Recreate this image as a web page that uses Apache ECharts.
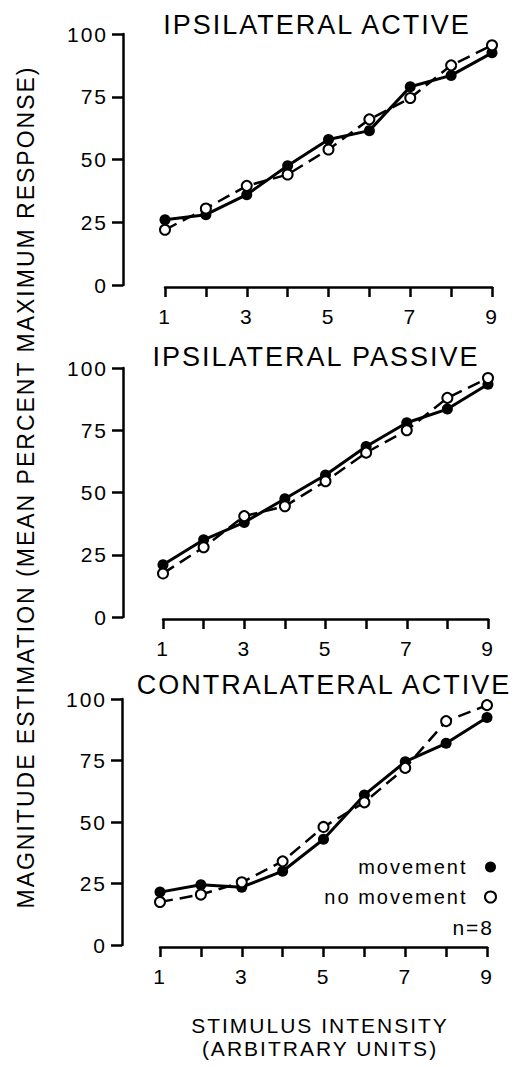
<!DOCTYPE html>
<html>
<head>
<meta charset="utf-8">
<script src="https://cdn.jsdelivr.net/npm/echarts@6/dist/echarts.min.js"></script>
<style>
  html, body { margin: 0; padding: 0; background: #fff; }
  #chart { width: 519px; height: 1067px; }
  /* the original figure uses widely tracked lettering */
  #chart text { letter-spacing: 2px; }
</style>
</head>
<body>
<div id="chart"></div>
<script>
// stimulus intensity (arbitrary units)
const stimulus = [1, 2, 3, 4, 5, 6, 7, 8, 9];

// mean percent maximum response
const ipsiActiveMovement = [26, 28, 36, 47.5, 58, 61.5, 79, 83.5, 92.5];
const ipsiActiveNoMovement = [22, 30.5, 39.5, 44, 54, 66, 74.5, 87.5, 95.5];
const ipsiPassiveMovement = [21, 31, 38, 47.5, 57, 68.5, 78, 83.5, 93.5];
const ipsiPassiveNoMovement = [17.5, 28, 40.5, 44.5, 54.5, 66, 75, 88, 96];
const contraActiveMovement = [21.5, 24.5, 23.5, 30, 43, 61, 74.5, 82, 92.5];
const contraActiveNoMovement = [17.5, 20.5, 25.5, 34, 48, 58, 72, 91, 97.5];

const panelTitles = ['IPSILATERAL ACTIVE', 'IPSILATERAL PASSIVE', 'CONTRALATERAL ACTIVE'];
const yTickStep = 25;
const seriesNames = ['movement', 'no movement'];

var FONT = '"Liberation Sans", Arial, Helvetica, sans-serif';
var dom = document.getElementById('chart');
var myChart = echarts.init(dom, null, { renderer: 'svg' });

var panels = [
  { grid: { left: 165, right: 27, top: 34, height: 251 }, yOffset: 42, title: { left: 317, top: 11 },
    move: ipsiActiveMovement, noMove: ipsiActiveNoMovement },
  { grid: { left: 163, right: 31, top: 368, height: 249 }, yOffset: 40, title: { left: 316, top: 343 },
    move: ipsiPassiveMovement, noMove: ipsiPassiveNoMovement },
  { grid: { left: 160, right: 32, top: 699, height: 246 }, yOffset: 38, title: { left: 324, top: 671 },
    move: contraActiveMovement, noMove: contraActiveNoMovement }
];

function pairs(ys) {
  var out = [];
  for (var i = 0; i < stimulus.length; i++) {
    out.push([stimulus[i], ys[i]]);
  }
  return out;
}

var grids = [], xAxes = [], yAxes = [], titles = [], seriesData = [];
for (var p = 0; p < panels.length; p++) {
  var pn = panels[p];
  grids.push(pn.grid);
  titles.push({
    text: panelTitles[p],
    left: pn.title.left,
    top: pn.title.top,
    textAlign: 'center',
    padding: 0,
    textStyle: { fontFamily: FONT, fontSize: 27, fontWeight: 'normal', color: '#000' }
  });
  xAxes.push({
    gridIndex: p,
    type: 'value',
    min: 1,
    max: 9,
    interval: 1,
    offset: 2,
    axisLine: { show: true, onZero: false, lineStyle: { color: '#000', width: 2.5 } },
    axisTick: { show: true, length: 10, lineStyle: { color: '#000', width: 2.5 } },
    axisLabel: {
      margin: 19,
      fontFamily: FONT,
      fontSize: 21,
      color: '#000',
      formatter: function (v) { return v % 2 === 1 ? String(v) : ''; }
    },
    splitLine: { show: false }
  });
  yAxes.push({
    gridIndex: p,
    type: 'value',
    min: 0,
    max: 100,
    interval: yTickStep,
    offset: pn.yOffset,
    axisLine: { show: true, onZero: false, lineStyle: { color: '#000', width: 2.5 } },
    axisTick: { show: true, length: 11, lineStyle: { color: '#000', width: 2.5 } },
    axisLabel: { margin: 15, fontFamily: FONT, fontSize: 21, color: '#000' },
    splitLine: { show: false }
  });
  seriesData.push({
    name: seriesNames[0],
    type: 'line',
    xAxisIndex: p,
    yAxisIndex: p,
    data: pairs(pn.move),
    symbol: 'circle',
    symbolSize: 11,
    lineStyle: { color: '#000', width: 3 },
    itemStyle: { color: '#000', borderColor: '#000', borderWidth: 0 },
    z: 2
  });
  seriesData.push({
    name: seriesNames[1],
    type: 'line',
    xAxisIndex: p,
    yAxisIndex: p,
    data: pairs(pn.noMove),
    symbol: 'circle',
    symbolSize: 10,
    showAllSymbol: true,
    lineStyle: { color: '#000', width: 2.5, type: [13, 7] },
    itemStyle: { color: '#fff', borderColor: '#000', borderWidth: 2 },
    z: 3
  });
}

var option = {
  backgroundColor: '#fff',
  animation: false,
  title: titles,
  grid: grids,
  xAxis: xAxes,
  yAxis: yAxes,
  legend: {
    orient: 'vertical',
    align: 'right',
    right: 17,
    top: 852,
    itemGap: 10,
    itemWidth: 36,
    itemHeight: 11,
    icon: 'circle',
    selectedMode: false,
    textStyle: { fontFamily: FONT, fontSize: 20, color: '#000' },
    data: [
      { name: seriesNames[0], itemStyle: { color: '#000', borderWidth: 0 } },
      { name: seriesNames[1], itemStyle: { color: '#fff', borderColor: '#000', borderWidth: 2 } }
    ]
  },
  graphic: [
    {
      type: 'text',
      right: 31,
      top: 917,
      style: { text: 'n=8', font: '21px ' + FONT, fill: '#000' }
    },
    {
      type: 'text',
      x: 26,
      y: 487,
      rotation: Math.PI / 2,
      style: {
        text: 'MAGNITUDE ESTIMATION (MEAN PERCENT MAXIMUM RESPONSE)',
        font: '23px ' + FONT,
        fill: '#000',
        textAlign: 'center',
        textVerticalAlign: 'middle'
      }
    },
    {
      type: 'text',
      x: 320,
      y: 1037,
      style: {
        text: 'STIMULUS INTENSITY\n(ARBITRARY UNITS)',
        font: '21px ' + FONT,
        lineHeight: 23,
        fill: '#000',
        textAlign: 'center',
        textVerticalAlign: 'middle'
      }
    }
  ],
  series: seriesData
};

myChart.setOption(option);
window.addEventListener('resize', myChart.resize);
</script>
</body>
</html>
